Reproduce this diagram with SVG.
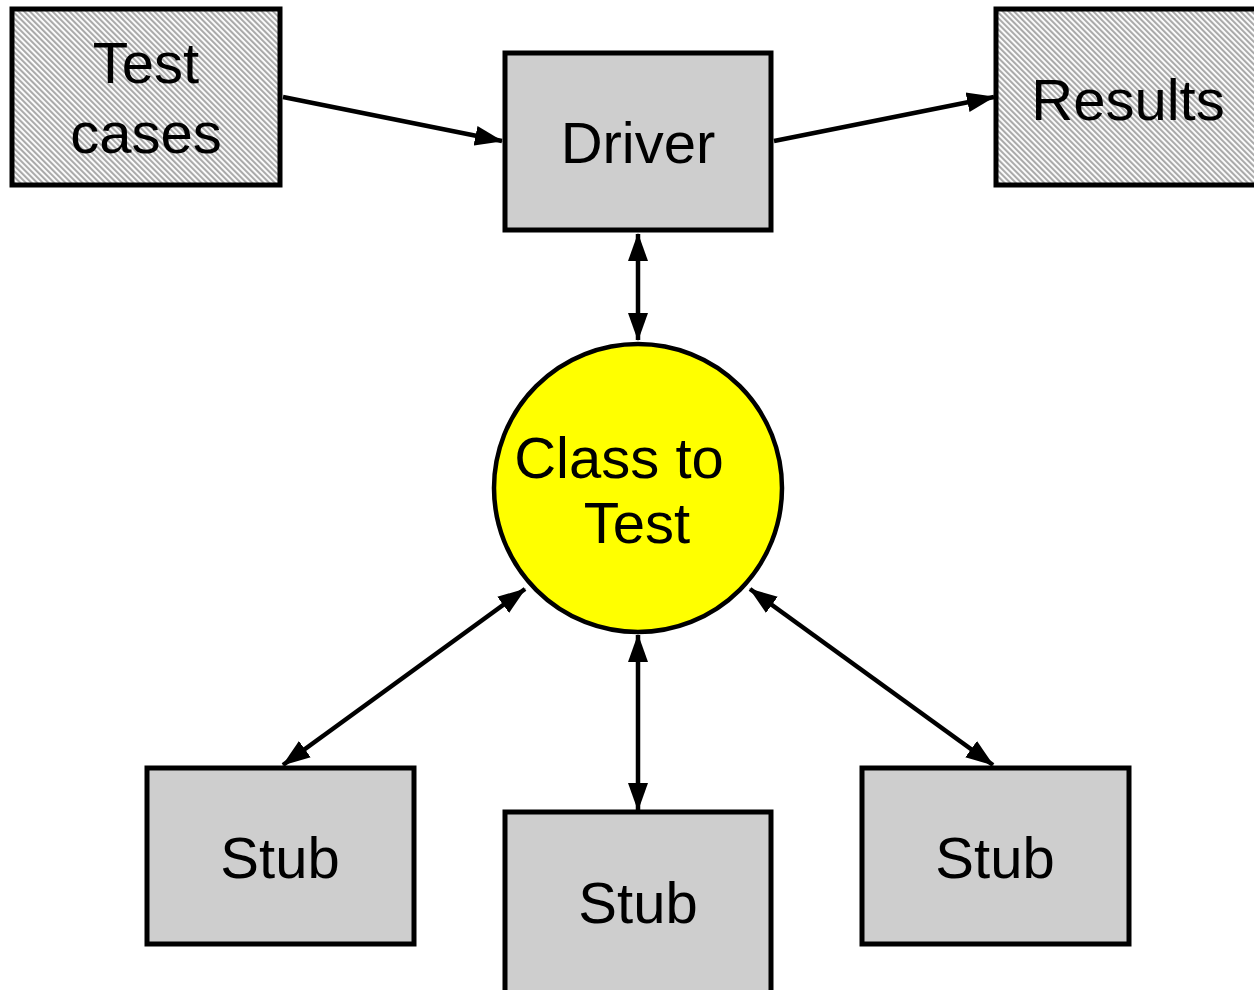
<svg xmlns="http://www.w3.org/2000/svg" width="1254" height="990" viewBox="0 0 1254 990">
  <style>
    .box { fill: #cecece; stroke: #000; stroke-width: 5; }
    .hatch { fill: url(#diag); stroke: #000; stroke-width: 5; }
    .lbl { font-family: "Liberation Sans", Arial, sans-serif; font-size: 58px; fill: #000; text-anchor: middle; }
    .conn { stroke: #000; stroke-width: 4.5; fill: none; }
  </style>
  <defs>
    <pattern id="diag" patternUnits="userSpaceOnUse" width="4" height="4" patternTransform="rotate(-45)">
      <rect width="4" height="4" fill="#ffffff"/>
      <rect width="2.1" height="4" fill="#aaaaaa"/>
    </pattern>
    <marker id="head" markerUnits="userSpaceOnUse" markerWidth="28" markerHeight="22" refX="27" refY="10" orient="auto-start-reverse" viewBox="0 0 28 20">
      <path d="M0,0 L28,10 L0,20 z" fill="#000"/>
    </marker>
  </defs>

  <!-- connectors -->
  <g id="connectors">
    <line class="conn" x1="283" y1="97" x2="502" y2="141" marker-end="url(#head)"/>
    <line class="conn" x1="774" y1="141" x2="994" y2="97" marker-end="url(#head)"/>
    <line class="conn" x1="638" y1="234" x2="638" y2="340" marker-start="url(#head)" marker-end="url(#head)"/>
    <line class="conn" x1="525" y1="589" x2="283" y2="765" marker-start="url(#head)" marker-end="url(#head)"/>
    <line class="conn" x1="638" y1="635" x2="638" y2="810" marker-start="url(#head)" marker-end="url(#head)"/>
    <line class="conn" x1="750" y1="589" x2="993" y2="765" marker-start="url(#head)" marker-end="url(#head)"/>
  </g>

  <g id="test-cases">
    <rect class="hatch" x="12" y="9" width="268" height="176"/>
    <text class="lbl" x="146" y="83">Test</text>
    <text class="lbl" x="146" y="153">cases</text>
  </g>

  <g id="driver">
    <rect class="box" x="505" y="53" width="266" height="177"/>
    <text class="lbl" x="638" y="163">Driver</text>
  </g>

  <g id="results">
    <rect class="hatch" x="996" y="9" width="270" height="176"/>
    <text class="lbl" x="1128" y="120">Results</text>
  </g>

  <g id="class-to-test">
    <circle cx="638" cy="488" r="144" fill="#ffff00" stroke="#000" stroke-width="4.5"/>
    <text class="lbl" x="619" y="478">Class to</text>
    <text class="lbl" x="637" y="543">Test</text>
  </g>

  <g id="stub-left">
    <rect class="box" x="147" y="768" width="267" height="176"/>
    <text class="lbl" x="280" y="878">Stub</text>
  </g>

  <g id="stub-middle">
    <rect class="box" x="505" y="812" width="266" height="182"/>
    <text class="lbl" x="638" y="923">Stub</text>
  </g>

  <g id="stub-right">
    <rect class="box" x="862" y="768" width="267" height="176"/>
    <text class="lbl" x="995" y="878">Stub</text>
  </g>
</svg>
